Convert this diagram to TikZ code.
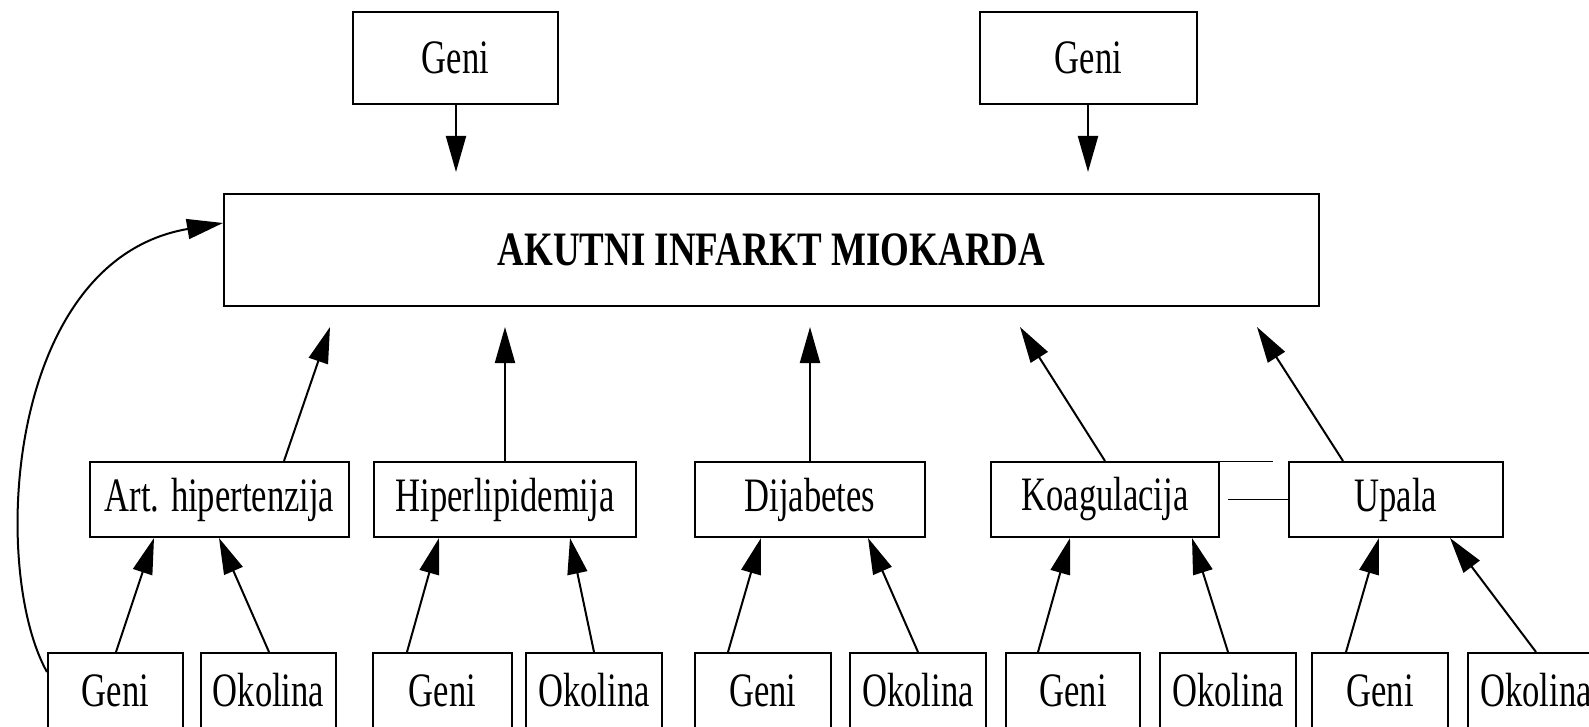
\documentclass[tikz,border=0pt]{standalone}
\usepackage{fontspec}
\setmainfont{Liberation Serif}[FakeStretch=0.72]
\newfontfamily\titlefont{Liberation Serif}[FakeStretch=0.77]
\usetikzlibrary{arrows.meta}
\begin{document}
\begin{tikzpicture}[x=0.5pt,y=-0.5pt,
  box/.style={draw,line width=1pt,inner sep=0pt,font=\fontsize{24}{28}\selectfont,minimum height=37.5pt},
  arr/.style={line width=1pt,-{Triangle[length=18pt,width=10pt]}},
  link/.style={line width=0.5pt}]
\useasboundingbox (0,0) rectangle (1589,727);
% top
\node[box,minimum width=102.5pt,minimum height=46pt] (g1) at (455.5,58) {Geni};
\node[box,minimum width=108.5pt,minimum height=46pt] (g2) at (1088.5,58) {Geni};
\node[box,minimum width=547.5pt,minimum height=56pt] (main) at (771.5,250)
  {\titlefont\bfseries AKUTNI INFARKT MIOKARDA};
% middle row
\node[box,minimum width=129.5pt] (art) at (219.5,499.5) {Art. hipertenzija};
\node[box,minimum width=131pt] (hip) at (505,499.5) {Hiperlipidemija};
\node[box,minimum width=115pt] (dij) at (810,499.5) {Dijabetes};
\node[box,minimum width=114pt] (koa) at (1105,499.5) {Koagulacija};
\node[box,minimum width=107pt] (upa) at (1396,499.5) {Upala};
% bottom row
\node[box,minimum width=67.5pt] (ag) at (115.5,690.5) {Geni};
\node[box,minimum width=67.5pt] (ao) at (268.5,690.5) {Okolina};
\node[box,minimum width=69.5pt] (hg) at (442.5,690.5) {Geni};
\node[box,minimum width=68pt] (ho) at (594,690.5) {Okolina};
\node[box,minimum width=68pt] (dg) at (763,690.5) {Geni};
\node[box,minimum width=68pt] (do) at (918,690.5) {Okolina};
\node[box,minimum width=67pt] (kg) at (1073,690.5) {Geni};
\node[box,minimum width=68pt] (ko) at (1228,690.5) {Okolina};
\node[box,minimum width=68pt] (ug) at (1380,690.5) {Geni};
\node[box,minimum width=68pt] (uo) at (1536,690.5) {Okolina};
% free ends
\coordinate (t1) at (456,172);
\coordinate (t2) at (1088,172);
\coordinate (m1) at (330,327);
\coordinate (m2) at (505,327);
\coordinate (m3) at (810,327);
\coordinate (m4) at (1020,327);
\coordinate (m5) at (1257,327);
% top arrows
\draw[arr] (g1.south -| 456,0) -- (t1);
\draw[arr] (g2.south -| 1088,0) -- (t2);
% middle to main
\draw[arr] (art.north -| 284,0) -- (m1);
\draw[arr] (hip.north) -- (m2);
\draw[arr] (dij.north) -- (m3);
\draw[arr] (koa.north) -- (m4);
\draw[arr] (upa.north -| 1343,0) -- (m5);
% bottom to middle
\draw[arr] (ag.north -| 116,0) -- (art.south -| 154,0);
\draw[arr] (ao.north -| 269,0) -- (art.south -| 219,0);
\draw[arr] (hg.north -| 407,0) -- (hip.south -| 439,0);
\draw[arr] (ho.north -| 594,0) -- (hip.south -| 570,0);
\draw[arr] (dg.north -| 728,0) -- (dij.south -| 761,0);
\draw[arr] (do.north -| 918,0) -- (dij.south -| 868,0);
\draw[arr] (kg.north -| 1038,0) -- (koa.south -| 1070,0);
\draw[arr] (ko.north -| 1228,0) -- (koa.south -| 1192,0);
\draw[arr] (ug.north -| 1346,0) -- (upa.south -| 1379,0);
\draw[arr] (uo.north -| 1536,0) -- (upa.south -| 1450,0);
% curved arrow
\draw[arr] (ag.west |- 0,672) .. controls (-10,570) and (5,260) .. (main.west |- 0,223);
% thin lines
\draw[link] (koa.north -| 1073,0) -- (koa.north -| 1273,0);
\draw[link] (koa.east -| 1228,0) -- (upa.west);
\end{tikzpicture}
\end{document}
